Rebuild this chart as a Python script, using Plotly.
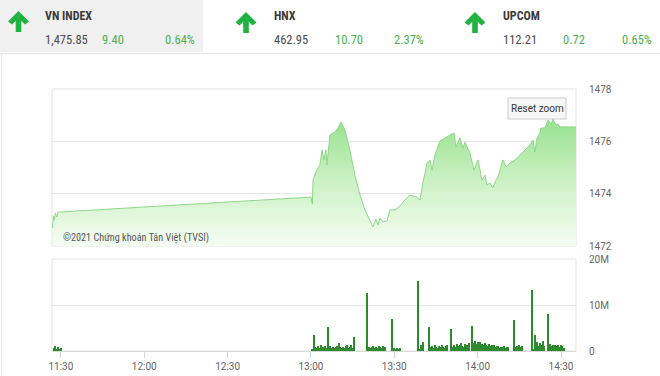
import plotly.graph_objects as go
from datetime import datetime, timedelta

DAY = "2021-06-01 "

# ---------------- data ----------------
price_times = ["11:27:00", "11:27:20", "11:27:40", "11:28:00", "11:28:30", "11:29:00", "11:30:00",
               "13:00:00", "13:00:30", "13:00:45", "13:01:48", "13:03:14", "13:04:00", "13:04:41", "13:05:24",
               "13:05:46", "13:06:50", "13:08:17", "13:09:43", "13:10:48", "13:12:14", "13:14:00", "13:15:50",
               "13:17:38", "13:19:26", "13:21:14", "13:22:19", "13:23:24", "13:24:07", "13:24:50", "13:25:55",
               "13:27:22", "13:28:26", "13:30:14", "13:31:40", "13:33:50", "13:35:38", "13:38:10", "13:39:14",
               "13:40:19", "13:41:46", "13:42:50", "13:43:34", "13:44:38", "13:46:26", "13:48:14", "13:50:00",
               "13:51:29", "13:52:12", "13:53:38", "13:54:43", "13:55:26", "13:57:14", "13:58:41", "14:00:07",
               "14:01:34", "14:02:38", "14:03:22", "14:04:26", "14:05:31", "14:06:36", "14:07:19", "14:09:07",
               "14:10:11", "14:11:38", "14:13:26", "14:15:14", "14:17:00", "14:18:50", "14:19:55", "14:20:38",
               "14:21:22", "14:22:26", "14:22:48", "14:24:14", "14:25:18", "14:26:24", "14:27:07", "14:28:12",
               "14:28:55", "14:29:38", "14:35:24"]
price_values = [1472.69, 1473.15, 1472.99, 1473.26, 1473.11, 1473.30, 1473.30,
                1473.87, 1473.60, 1474.52, 1474.83, 1475.10, 1475.67, 1475.29, 1475.67,
                1475.10, 1476.24, 1476.32, 1476.51, 1476.74, 1476.43, 1475.67, 1474.71,
                1473.95, 1473.38, 1472.99, 1472.73, 1473.03, 1472.80, 1473.07, 1472.92,
                1472.96, 1473.38, 1473.38, 1473.49, 1473.76, 1473.95, 1473.87, 1473.76,
                1474.41, 1475.17, 1475.29, 1474.90, 1475.48, 1476.01, 1476.13, 1476.24,
                1476.32, 1475.78, 1476.13, 1475.74, 1475.97, 1475.55, 1474.90, 1475.29,
                1474.52, 1474.71, 1474.33, 1474.41, 1474.22, 1474.52, 1474.64, 1475.29,
                1475.02, 1475.17, 1475.29, 1475.48, 1475.67, 1475.86, 1476.05, 1475.59,
                1476.13, 1476.32, 1476.51, 1476.51, 1476.81, 1476.66, 1476.85, 1476.62,
                1476.66, 1476.55, 1476.55]

# volume: clusters of 30-second bars (values in millions of shares)
vol_starts = ["11:27:30", "13:00:30", "13:20:00", "13:29:00", "13:38:30", "13:42:30",
              "13:50:30", "13:58:00", "14:13:00", "14:19:30", "14:25:30"]
vol_values = [
    [0.6, 1.0, 0.5, 0.8, 0.4, 0.6],
    [0.5, 3.5, 0.8, 0.6, 1.0, 0.7, 1.2, 0.6, 0.9, 1.1, 0.7, 5.2, 0.8, 1.0, 0.6, 0.9,
     0.7, 0.8, 1.1, 1.7, 0.8, 0.6, 0.9, 0.7, 1.0, 1.3, 0.6, 0.9, 1.2, 0.7, 3.0],
    [12.6, 0.6, 0.9, 0.7, 0.8, 1.0, 0.6, 0.9, 0.7, 1.1, 0.8, 0.6, 1.0, 0.9],
    [7.0, 0.5, 0.7, 0.4, 0.6, 0.5, 0.7],
    [15.2, 0.5, 1.4, 0.8, 2.0],
    [5.2, 0.8, 1.0, 0.6, 1.3, 0.9, 0.7, 1.1, 0.8, 1.2, 0.9, 0.6, 1.0, 1.4],
    [4.8, 0.9, 1.2, 0.8, 1.5, 1.0, 1.3, 1.8, 1.1, 0.9, 1.6, 1.2, 1.0, 1.7],
    [5.4, 1.8, 2.2, 1.5, 2.0, 1.3, 1.9, 1.6, 1.2, 1.8, 1.4, 1.1, 1.5, 1.0, 1.3, 0.9,
     1.2, 0.8, 1.0, 1.1, 0.7, 0.9, 0.8, 1.0, 0.6, 0.8, 0.9],
    [6.7, 0.8, 1.1, 0.7, 1.2, 0.9, 1.0],
    [13.3, 0.5, 3.5, 1.2, 2.0, 1.0, 1.8, 1.4, 2.2, 1.1],
    [8.0, 1.5, 1.0, 1.3, 0.9, 1.4, 1.1, 1.2, 0.8, 1.3, 1.0, 0.7],
]

price_ticks = [1472, 1474, 1476, 1478]
vol_ticks = [0, 10e6, 20e6]
vol_tick_text = ["0", "10M", "20M"]
x_start, x_end = "11:26:48", "14:35:24"

header_names = ["VN INDEX", "HNX", "UPCOM"]
header_values = ["1,475.85", "462.95", "112.21"]
header_changes = ["9.40", "10.70", "0.72"]
header_pcts = ["0.64%", "2.37%", "0.65%"]
copyright_text = "©2021 Chứng khoán Tân Việt (TVSI)"

# ---------------- build ----------------
fmt = "%Y-%m-%d %H:%M:%S"
price_x = [DAY + t for t in price_times]
assert len(price_x) == len(price_values)

vol_x, vol_y = [], []
for start, vals in zip(vol_starts, vol_values):
    t0 = datetime.strptime(DAY + start, fmt)
    for i, v in enumerate(vals):
        vol_x.append((t0 + timedelta(seconds=30 * i)).strftime(fmt))
        vol_y.append(v * 1e6)

W, H = 660, 376
ML, MR, MT, MB = 52, 84, 89, 25
PW, PH = W - ML - MR, H - MT - MB


def px(x):
    return (x - ML) / PW


def py(y):
    return (H - MB - y) / PH


main_dom = [py(246), 1]
vol_dom = [0, py(259)]

FONT = "Roboto Condensed, Liberation Sans Narrow, Roboto"
AXFONT = "Roboto"
GRAY = "#666666"
GREEN_TXT = "#4caf50"
GREEN_ARROW = "#21b33f"

fig = go.Figure()
fig.add_trace(go.Scatter(
    x=price_x, y=price_values, mode="lines",
    line=dict(color="#8dd889", width=1),
    fill="tozeroy",
    fillgradient=dict(type="vertical", start=1472, stop=1478,
                      colorscale=[[0, "#f6fdf4"], [0.45, "#c8f0c0"], [1, "#7fda76"]]),
    xaxis="x", yaxis="y", hoverinfo="skip", showlegend=False))
fig.add_trace(go.Bar(
    x=vol_x, y=vol_y, width=22000, marker=dict(color="#2e8a2e", line=dict(width=0)),
    xaxis="x2", yaxis="y2", hoverinfo="skip", showlegend=False))

xr = [DAY + x_start, DAY + x_end]
fig.update_layout(
    width=W, height=H, autosize=False, margin=dict(l=ML, r=MR, t=MT, b=MB, pad=0, autoexpand=False),
    paper_bgcolor="white", plot_bgcolor="white",
    font=dict(family=AXFONT, size=10, color=GRAY),
    showlegend=False,
    xaxis=dict(domain=[0, 1], anchor="y", type="date", range=xr, showticklabels=False,
               showgrid=False, zeroline=False, showline=False, ticks="", automargin=False),
    yaxis=dict(domain=main_dom, anchor="x", range=[1472, 1478], side="right",
               tickvals=price_ticks, gridcolor="#e6e6e6", gridwidth=1, zeroline=False,
               showline=False, ticks="", ticklabelstandoff=12, automargin=False,
               tickfont=dict(size=10, color=GRAY)),
    xaxis2=dict(domain=[0, 1], anchor="y2", type="date", range=xr, tickformat="%H:%M",
                tick0=DAY + "11:30:00", dtick=1800000, ticks="outside", ticklen=6,
                tickcolor="#ccd6eb", showline=True, linecolor="#d8d8d8", showgrid=False,
                zeroline=False, automargin=False, tickfont=dict(size=10, color=GRAY)),
    yaxis2=dict(domain=vol_dom, anchor="x2", range=[0, 20e6], side="right",
                tickvals=vol_ticks, ticktext=vol_tick_text, gridcolor="#e6e6e6",
                zeroline=False, showline=False, ticks="", ticklabelstandoff=12, automargin=False,
                tickfont=dict(size=10, color=GRAY)),
    bargap=0,
)

shapes = []
# panel borders
for dom in (main_dom, vol_dom):
    shapes.append(dict(type="rect", xref="paper", yref="paper", x0=0, x1=1, y0=dom[0], y1=dom[1],
                       line=dict(color="#e3e3e3", width=1), layer="below"))
# header background of the active tab and divider
shapes.append(dict(type="rect", xref="paper", yref="paper", x0=px(0), x1=px(203), y0=py(52), y1=py(0),
                   fillcolor="#f0f0f0", line=dict(width=0), layer="below"))
shapes.append(dict(type="line", xref="paper", yref="paper", x0=px(0), x1=px(660), y0=py(53.5), y1=py(53.5),
                   line=dict(color="#e6e6e6", width=1)))
shapes.append(dict(type="line", xref="paper", yref="paper", x0=px(1.5), x1=px(1.5), y0=py(376), y1=py(53.5),
                   line=dict(color="#e6e6e6", width=1)))

# arrows
arrow_pts = [(0, -11), (10.5, -0.5), (6.5, 2.5), (2.8, -1.2), (2.8, 10), (-2.8, 10), (-2.8, -1.2),
             (-6.5, 2.5), (-10.5, -0.5)]
for cx, cy in [(18.5, 22), (246, 23), (475, 23)]:
    pts = [(px(cx + dx), py(cy + dy)) for dx, dy in arrow_pts]
    path = "M " + " L ".join(f"{a:.5f},{b:.5f}" for a, b in pts) + " Z"
    shapes.append(dict(type="path", xref="paper", yref="paper", path=path,
                       fillcolor=GREEN_ARROW, line=dict(width=0)))

# reset zoom button
shapes.append(dict(type="rect", xref="paper", yref="paper", x0=px(508), x1=px(566), y0=py(119), y1=py(98),
                   fillcolor="#f7f7f7", line=dict(color="#cccccc", width=1)))
fig.update_layout(shapes=shapes)

ann = []


def text(x, y, s, size, color, bold=False, anchor="left", family=FONT):
    ann.append(dict(xref="paper", yref="paper", x=px(x), y=py(y), text=f"<b>{s}</b>" if bold else s,
                    showarrow=False, xanchor=anchor, yanchor="middle",
                    font=dict(family=family, size=size, color=color)))


cols = [(44, 100, 163), (273, 333, 392), (502, 561, 620)]
for (x0, x1, x2), nm, v, c, p in zip(cols, header_names, header_values, header_changes, header_pcts):
    text(x0 - 1, 16, nm, 12, "#3a3a3a", bold=True)
    text(x0 - 1, 40, v, 12.5, "#4a4a4a")
    text(x1, 40, c, 12.5, GREEN_TXT)
    text(x2, 40, p, 12.5, GREEN_TXT)

text(61, 238, copyright_text, 10.2, "#555555")
text(537, 108.5, "Reset zoom", 10, "#333333", anchor="center", family=AXFONT)
fig.update_layout(annotations=ann)

fig.write_html("out.html", config={"displayModeBar": False},
               post_script="document.body.style.margin='0';document.body.style.overflow='hidden';")
